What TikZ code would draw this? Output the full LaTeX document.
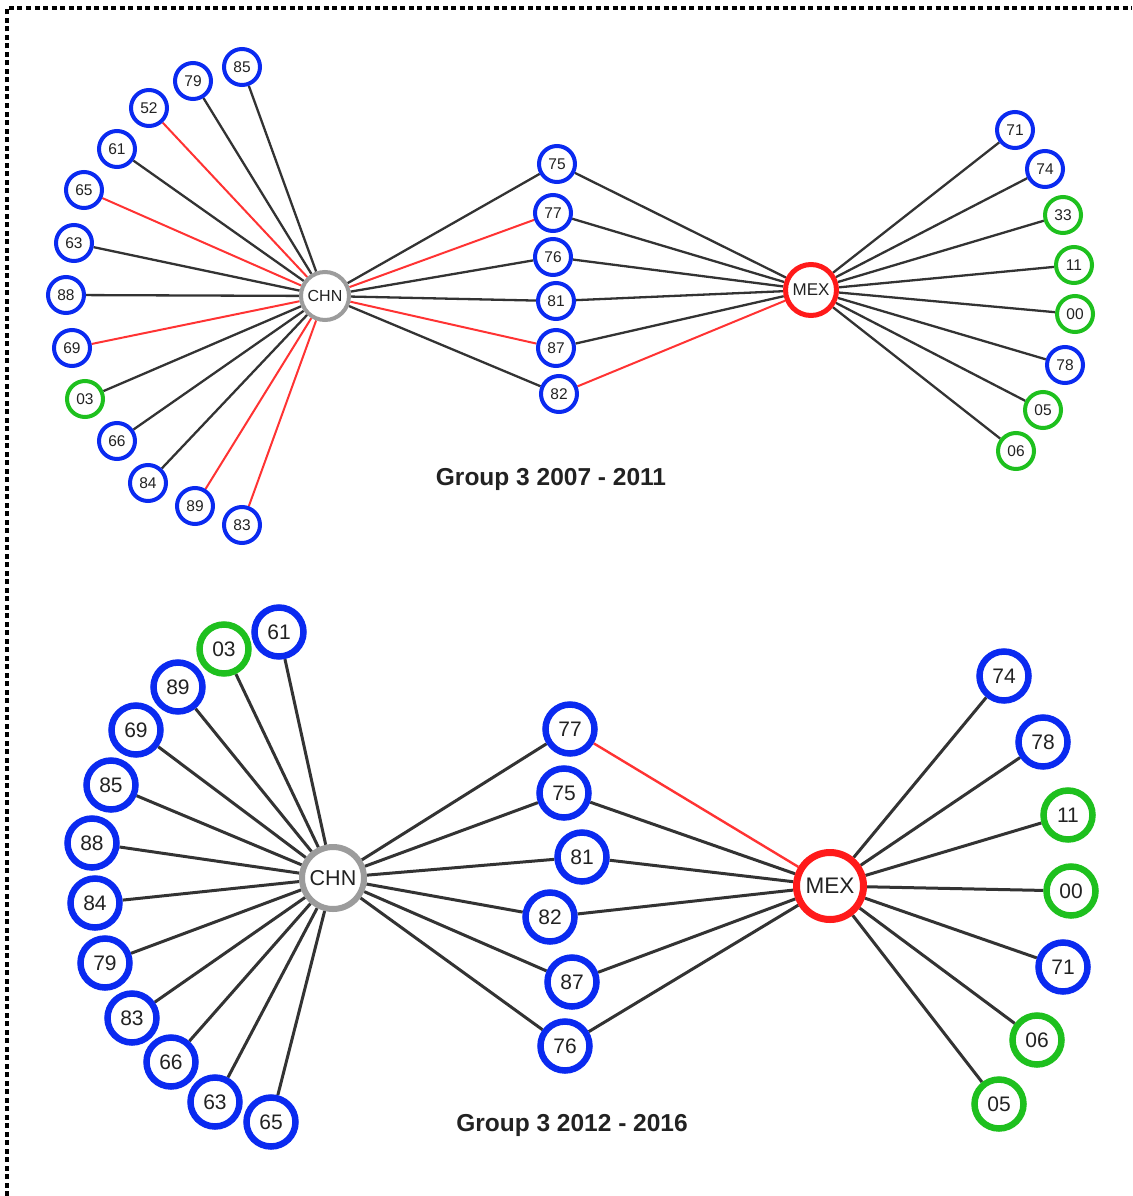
\documentclass[tikz,border=0pt]{standalone}
\usepackage{fontspec}
\setmainfont{Liberation Sans}
\usetikzlibrary{backgrounds}
\definecolor{nblue}{HTML}{0A2AF0}
\definecolor{ngreen}{HTML}{1EC01E}
\definecolor{nred}{HTML}{FF1A1A}
\definecolor{ngray}{HTML}{9C9C9C}
\definecolor{edk}{HTML}{333333}
\definecolor{ered}{HTML}{FF3333}
\definecolor{txt}{HTML}{222222}
\begin{document}
\begin{tikzpicture}[x=1pt,y=-1pt,
  sleaf/.style={circle,draw=#1,line width=4pt,minimum size=36pt,inner sep=0pt,fill=white,text=txt,font=\fontsize{15.5}{16}\selectfont},
  bleaf/.style={circle,draw=#1,line width=6.5pt,minimum size=49pt,inner sep=0pt,fill=white,text=txt,font=\fontsize{21}{22}\selectfont},
  shub/.style 2 args={circle,draw=#1,line width=#2,inner sep=0pt,fill=white,text=txt},
  bk/.style={draw=edk,line width=2.3pt},
  rd/.style={draw=ered,line width=2pt},
  bbk/.style={draw=edk,line width=3pt},
  brd/.style={draw=ered,line width=2.4pt},
  ttl/.style={font=\bfseries\fontsize{24.5}{25}\selectfont,text=txt,inner sep=0pt}
]
\useasboundingbox (0,0) rectangle (1132,1196);
\draw[line width=3.2pt,dash pattern=on 5pt off 3.5pt] (7,1196) -- (7,8) -- (1132,8);

% ---------------- top graph ----------------
\node[shub={ngray}{4pt},minimum size=48pt,font=\fontsize{16}{17}\selectfont] (tCHN) at (325,296) {CHN};
\node[shub={nred}{5pt},minimum size=51pt,font=\fontsize{17}{18}\selectfont] (tMEX) at (811,290) {MEX};
\foreach \n/\x/\y/\c in {85/242/67/nblue,79/193/81/nblue,52/149/108/nblue,61/117/149/nblue,
  65/84/190/nblue,63/74/243/nblue,88/66/295/nblue,69/72/348/nblue,03/85/399/ngreen,
  66/117/441/nblue,84/148/483/nblue,89/195/506/nblue,83/242/525/nblue}
  \node[sleaf=\c] (tl\n) at (\x,\y) {\n};
\foreach \n/\x/\y in {75/557/164,77/553/213,76/553/257,81/556/301,87/556/348,82/559/394}
  \node[sleaf=nblue] (tm\n) at (\x,\y) {\n};
\foreach \n/\x/\y/\c in {71/1015/130/nblue,74/1045/169/nblue,33/1063/215/ngreen,11/1074/265/ngreen,
  00/1075/314/ngreen,78/1065/365/nblue,05/1043/410/ngreen,06/1016/451/ngreen}
  \node[sleaf=\c] (tr\n) at (\x,\y) {\n};
\node[ttl] (ttitle) at (551,479) {Group 3 2007 - 2011};

\begin{scope}[on background layer]
  \foreach \n in {85,79,61,63,88,03,66,84} \draw[bk] (tCHN) -- (tl\n);
  \foreach \n in {52,65,69,89,83} \draw[rd] (tCHN) -- (tl\n);
  \foreach \n in {75,76,81,82} \draw[bk] (tCHN) -- (tm\n);
  \foreach \n in {77,87} \draw[rd] (tCHN) -- (tm\n);
  \foreach \n in {75,77,76,81,87} \draw[bk] (tMEX) -- (tm\n);
  \draw[rd] (tMEX) -- (tm82);
  \foreach \n in {71,74,33,11,00,78,05,06} \draw[bk] (tMEX) -- (tr\n);
\end{scope}

% ---------------- bottom graph ----------------
\node[shub={ngray}{6pt},minimum size=62pt,font=\fontsize{21.5}{22}\selectfont] (bCHN) at (333,878) {CHN};
\node[shub={nred}{7pt},minimum size=67pt,font=\fontsize{22.5}{23}\selectfont] (bMEX) at (830,886) {MEX};
\foreach \n/\x/\y/\c in {61/279/632/nblue,03/224/649/ngreen,89/178/687/nblue,69/136/730/nblue,
  85/111/785/nblue,88/92/843/nblue,84/95/903/nblue,79/105/963/nblue,83/132/1018/nblue,
  66/171/1062/nblue,63/215/1102/nblue,65/271/1122/nblue}
  \node[bleaf=\c] (bl\n) at (\x,\y) {\n};
\foreach \n/\x/\y in {77/570/729,75/564/793,81/582/857,82/550/917,87/572/982,76/565/1046}
  \node[bleaf=nblue] (bm\n) at (\x,\y) {\n};
\foreach \n/\x/\y/\c in {74/1004/676/nblue,78/1043/742/nblue,11/1068/815/ngreen,00/1071/891/ngreen,
  71/1063/967/nblue,06/1037/1040/ngreen,05/999/1104/ngreen}
  \node[bleaf=\c] (br\n) at (\x,\y) {\n};
\node[ttl] (btitle) at (572,1125) {Group 3 2012 - 2016};

\begin{scope}[on background layer]
  \foreach \n in {61,03,89,69,85,88,84,79,83,66,63,65} \draw[bbk] (bCHN) -- (bl\n);
  \foreach \n in {77,75,81,82,87,76} \draw[bbk] (bCHN) -- (bm\n);
  \foreach \n in {75,81,82,87,76} \draw[bbk] (bMEX) -- (bm\n);
  \draw[brd] (bMEX) -- (bm77);
  \foreach \n in {74,78,11,00,71,06,05} \draw[bbk] (bMEX) -- (br\n);
\end{scope}
\end{tikzpicture}
\end{document}
